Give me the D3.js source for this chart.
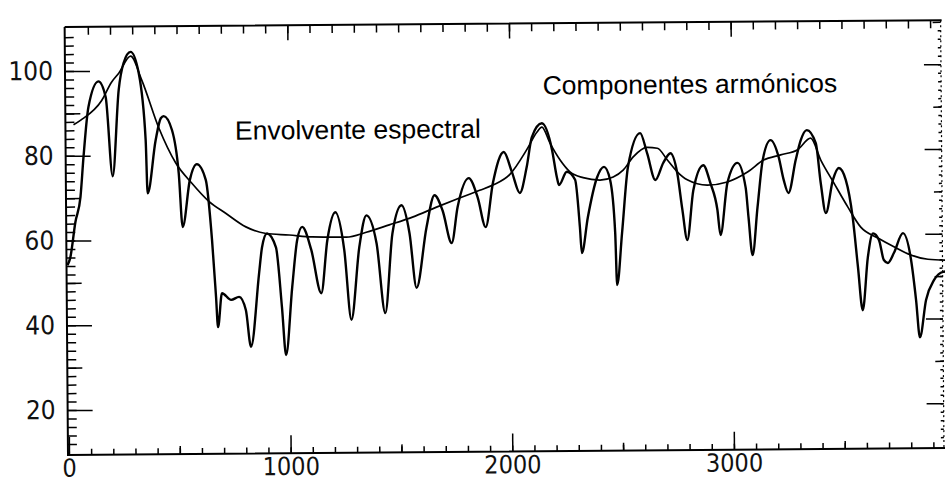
<!doctype html>
<html>
  <head>
    <meta charset="utf-8">
    <script src="https://d3js.org/d3.v7.min.js"></script>
    <style>
      body { margin: 0; background: #fff; }
    </style>
  </head>
  <body>
    <div id="graphic"></div>
    <script>

// harmonic spectrum (frequency in Hz, level in dB)
var harmFreq = [0, 12, 37, 61, 76, 100, 146, 178, 207, 237, 260, 292, 328, 357, 364, 402, 426, 439, 476, 505,
  521, 555, 587, 627, 653, 669, 677, 696, 737, 773, 803, 825, 864, 878, 901, 941, 966, 983, 1013, 1037,
  1060, 1100, 1144, 1173, 1210, 1249, 1279, 1317, 1350, 1395, 1432, 1467, 1509, 1544, 1574, 1621, 1658, 1694, 1734, 1762,
  1813, 1853, 1888, 1922, 1972, 2008, 2043, 2075, 2099, 2145, 2190, 2211, 2220, 2256, 2293, 2313, 2321, 2349, 2392, 2424,
  2451, 2472, 2479, 2503, 2532, 2588, 2619, 2655, 2691, 2724, 2754, 2776, 2797, 2826, 2872, 2903, 2934, 2947, 2980, 3026,
  3062, 3074, 3091, 3115, 3140, 3176, 3212, 3234, 3255, 3289, 3312, 3340, 3380, 3401, 3423, 3456, 3483, 3514, 3544, 3566,
  3586, 3611, 3635, 3662, 3683, 3701, 3729, 3770, 3806, 3827, 3843, 3872, 3909, 3950, 3990];
var harmDb = [54.2, 55.8, 64.3, 70.3, 79.7, 91.5, 97.5, 93.8, 75.1, 95.4, 101.8, 104.4, 99.4, 83.6, 71.0, 83.5, 88.7, 89.2, 85.9, 75.7,
  63.0, 74.1, 77.8, 74.0, 59.8, 46.4, 39.3, 47.3, 45.7, 46.4, 43.3, 34.6, 51.9, 58.0, 61.3, 58.0, 43.9, 32.6, 48.6, 59.7,
  62.8, 57.4, 47.1, 59.6, 66.2, 57.3, 40.8, 57.9, 65.4, 58.8, 42.3, 61.1, 67.7, 61.1, 48.2, 62.5, 70.0, 66.4, 58.7, 67.2,
  74.0, 69.4, 62.4, 72.8, 80.1, 75.4, 70.4, 76.5, 83.5, 86.8, 80.5, 74.0, 72.2, 75.3, 73.4, 62.2, 56.1, 64.5, 73.9, 76.4,
  73.3, 60.8, 48.5, 60.8, 76.4, 84.3, 79.5, 73.2, 77.2, 79.5, 74.8, 66.1, 59.0, 70.7, 76.6, 72.4, 66.0, 60.1, 72.4, 77.1,
  71.3, 64.2, 55.3, 66.6, 77.7, 82.4, 78.4, 73.0, 69.9, 77.7, 82.3, 84.7, 81.6, 72.2, 65.1, 72.9, 75.7, 72.9, 64.0, 52.3,
  42.1, 54.6, 60.2, 58.6, 53.9, 53.2, 55.6, 60.2, 53.8, 44.4, 35.6, 44.4, 49.1, 51.0, 51.2];

// spectral envelope
var envFreq = [32, 65, 160, 205, 238, 292, 341, 417, 492, 564, 640, 717, 806, 897, 1001, 1105, 1259, 1349, 1453, 1558,
  1667, 1771, 1862, 1922, 1999, 2076, 2122, 2145, 2181, 2226, 2270, 2329, 2406, 2465, 2510, 2556, 2619, 2665, 2710, 2754,
  2799, 2890, 2980, 3071, 3144, 3221, 3298, 3357, 3402, 3460, 3522, 3580, 3657, 3729, 3806, 3882, 3990];
var envDb = [87.3, 88.4, 93.0, 97.3, 99.4, 103.4, 97.8, 86.4, 78.1, 73.3, 69.0, 66.1, 62.9, 61.3, 60.9, 60.4, 60.3, 61.4, 63.1, 64.9,
  67.2, 69.3, 71.1, 72.3, 74.8, 80.6, 84.7, 85.9, 82.1, 78.1, 75.3, 73.9, 73.3, 74.0, 75.6, 78.7, 80.9, 80.7, 77.9, 75.1,
  73.2, 71.9, 72.6, 74.9, 77.7, 78.9, 80.1, 82.8, 77.6, 72.2, 66.5, 61.7, 59.1, 57.0, 55.0, 54.0, 53.7];

var xLabels = [0, 1000, 2000, 3000];
var yLabels = [20, 40, 60, 80, 100];

var annotations = [
  {text: "Envolvente espectral", f: 760, db: 83.5},
  {text: "Componentes armónicos", f: 2150, db: 93.6}
];

var width = 945, height = 482;

var svg = d3.select("#graphic").append("svg")
    .attr("width", width)
    .attr("height", height);

// the scan is tilted a little, so the whole plot is turned with it
var g = svg.append("g")
    .attr("transform", "rotate(-0.45, 68, 455)");

var xScale = d3.scaleLinear().domain([0, 3953]).range([69, 945.2]);
var yScale = d3.scaleLinear().domain([9.4, 110.4]).range([455, 27]);

var tickFont = "'DejaVu Sans Condensed', 'DejaVu Sans', sans-serif";

function plain(sel) {
  sel.select(".domain").remove();
  sel.selectAll("line").attr("stroke", "#000").attr("stroke-width", 1.5);
}

// bottom axis
g.append("g")
    .attr("transform", "translate(0,455)")
    .call(d3.axisBottom(xScale).tickValues(d3.range(100, 4000, 100)).tickSize(-6).tickFormat(""))
    .call(plain);
g.append("g")
    .attr("transform", "translate(0,455)")
    .call(d3.axisBottom(xScale).tickValues([500, 1500, 2500, 3500]).tickSize(-8).tickFormat(""))
    .call(plain);
g.append("g")
    .attr("transform", "translate(0,455)")
    .call(d3.axisBottom(xScale).tickValues(xLabels).tickSize(-18).tickPadding(4).tickFormat(d3.format("d")))
    .call(plain)
    .selectAll("text")
    .style("font-family", tickFont)
    .style("font-size", "25px")
    .attr("fill", "#111");

// top axis
g.append("g")
    .attr("transform", "translate(0,27)")
    .call(d3.axisTop(xScale).tickValues(d3.range(100, 4000, 100)).tickSize(-8).tickFormat(""))
    .call(plain);
g.append("g")
    .attr("transform", "translate(0,27)")
    .call(d3.axisTop(xScale).tickValues([1000, 2000, 3000]).tickSize(-15).tickFormat(""))
    .call(plain);

// left axis
g.append("g")
    .attr("transform", "translate(68,0)")
    .call(d3.axisLeft(yScale).tickValues(d3.range(12, 110, 2)).tickSize(-9).tickFormat(""))
    .call(plain);
g.append("g")
    .attr("transform", "translate(68,0)")
    .call(d3.axisLeft(yScale).tickValues([30, 50, 70, 90]).tickSize(-15).tickFormat(""))
    .call(plain);
g.append("g")
    .attr("transform", "translate(68,0)")
    .call(d3.axisLeft(yScale).tickValues(yLabels).tickSize(-25).tickPadding(12))
    .call(plain)
    .selectAll("text")
    .style("font-family", tickFont)
    .style("font-size", "26px")
    .attr("fill", "#111");

// right axis
g.append("g")
    .attr("transform", "translate(944,0)")
    .call(d3.axisRight(yScale).tickValues(d3.range(12, 110, 2)).tickSize(-3).tickFormat(""))
    .call(plain);
g.append("g")
    .attr("transform", "translate(944,0)")
    .call(d3.axisRight(yScale).tickValues([30, 50, 70, 90, 110]).tickSize(-8).tickFormat(""))
    .call(plain);
g.append("g")
    .attr("transform", "translate(944,0)")
    .call(d3.axisRight(yScale).tickValues([20, 40, 60, 80, 100]).tickSize(-17).tickFormat(""))
    .call(plain);

// frame
g.append("path")
    .attr("d", "M68,27V455H945M68,27H945")
    .attr("fill", "none")
    .attr("stroke", "#000")
    .attr("stroke-width", 2);
g.append("line")
    .attr("x1", 944).attr("x2", 944)
    .attr("y1", 27).attr("y2", 455)
    .attr("stroke", "#000")
    .attr("stroke-width", 1.2)
    .attr("stroke-dasharray", "2,3");

// curves
var harmData = harmFreq.map(function(f, i) { return {f: f, db: harmDb[i]}; });
var envData = envFreq.map(function(f, i) { return {f: f, db: envDb[i]}; });

var line = d3.line()
    .x(d => xScale(d.f))
    .y(d => yScale(d.db))
    .curve(d3.curveMonotoneX);

g.append("path")
    .datum(envData)
    .attr("d", line)
    .attr("fill", "none")
    .attr("stroke", "#000")
    .attr("stroke-width", 1.7);

g.append("path")
    .datum(harmData)
    .attr("d", line)
    .attr("fill", "none")
    .attr("stroke", "#000")
    .attr("stroke-width", 2.4)
    .attr("stroke-linejoin", "round");

// labels
g.selectAll(".note")
    .data(annotations)
    .enter()
    .append("text")
    .attr("class", "note")
    .attr("x", d => xScale(d.f))
    .attr("y", d => yScale(d.db))
    .style("font-family", "'Liberation Sans', Arial, sans-serif")
    .style("font-size", "26.5px")
    .attr("fill", "#000")
    .text(d => d.text);

    </script>
  </body>
</html>
